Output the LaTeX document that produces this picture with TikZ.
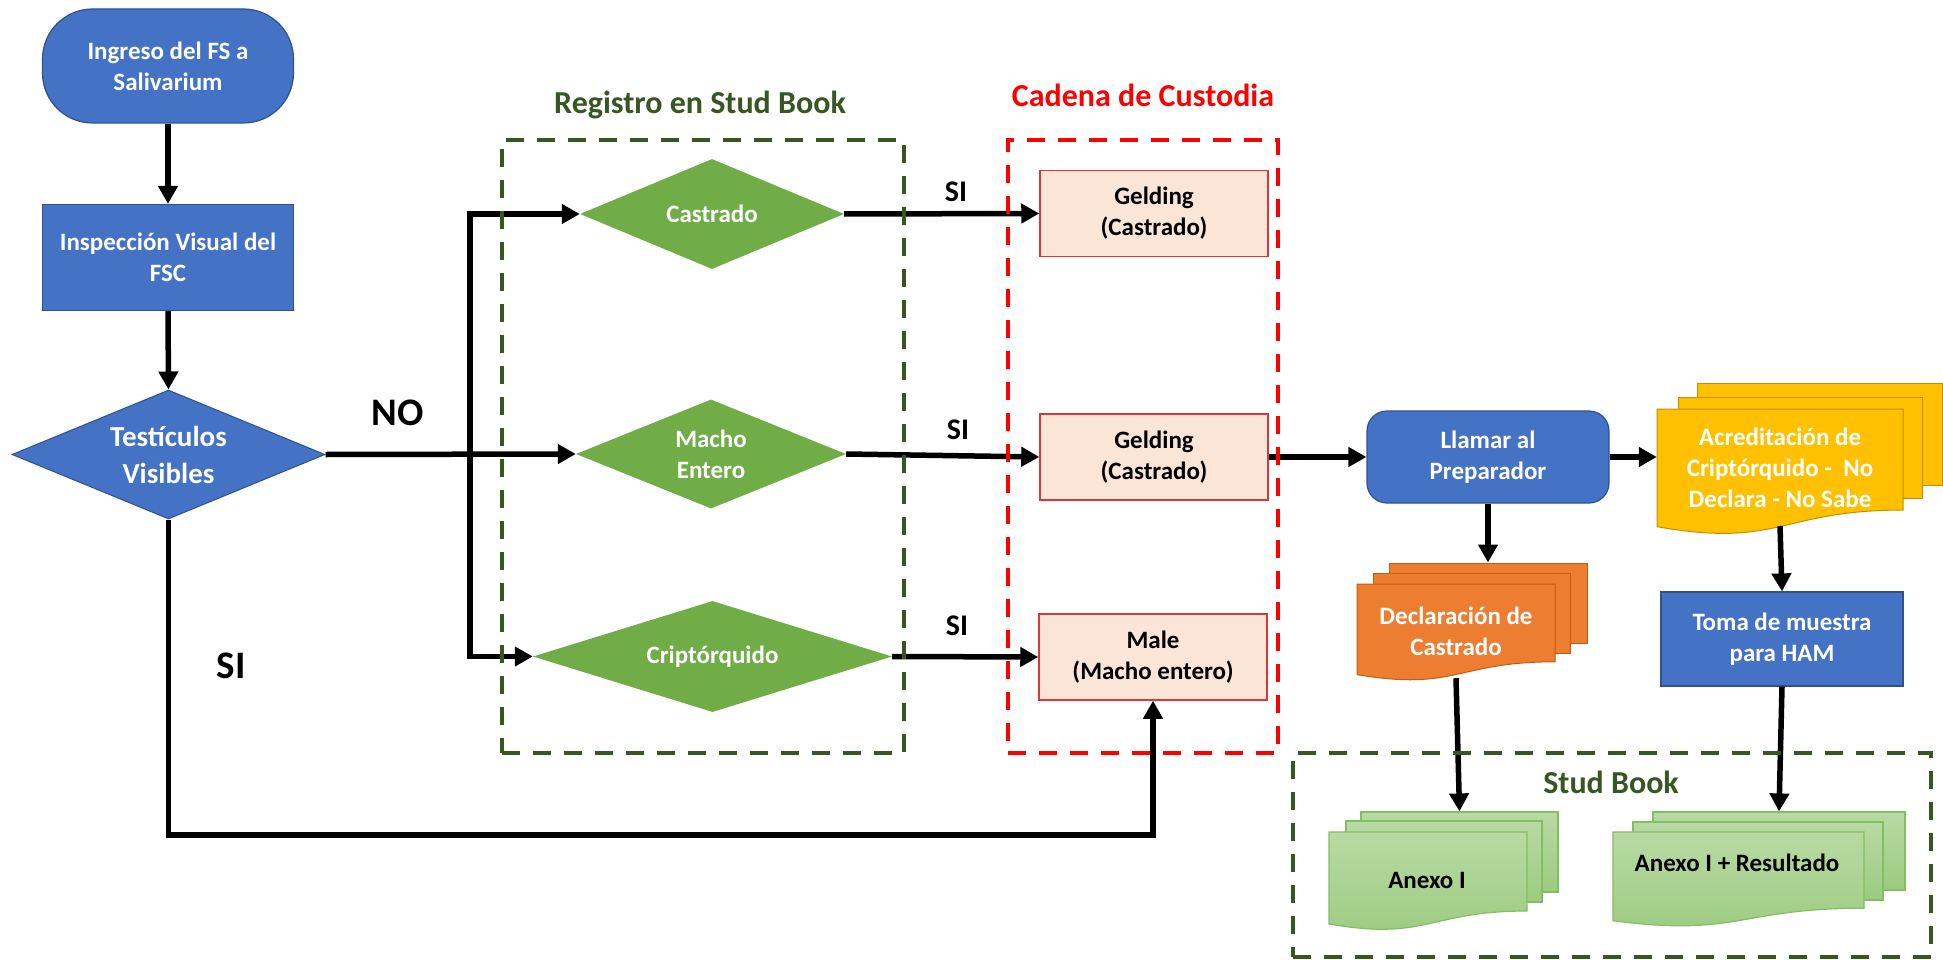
\documentclass[tikz,border=0pt]{standalone}
\usepackage{fontspec}
\setmainfont{Carlito}
\usetikzlibrary{arrows.meta,shapes.geometric}
\definecolor{blueA}{HTML}{4472C4}
\definecolor{blueB}{HTML}{2F528F}
\definecolor{greenA}{HTML}{70AD47}
\definecolor{darkgreen}{HTML}{375623}
\definecolor{peach}{HTML}{FBE5D6}
\definecolor{redB}{HTML}{D9383A}
\definecolor{redD}{HTML}{FF0000}
\definecolor{orangeA}{HTML}{ED7D31}
\definecolor{orangeB}{HTML}{C55A11}
\definecolor{yellowA}{HTML}{FFC000}
\definecolor{yellowB}{HTML}{BF9000}
\definecolor{lgT}{HTML}{B8DAA3}
\definecolor{lgB}{HTML}{9CCB80}
\definecolor{lgD}{HTML}{84BE64}
\newcommand{\frontdoc}[5]{\path[#1] (#2,#3) -- (#4,#3) -- (#4,{#3+0.802*#5}) .. controls ({(#2+#4)/2},{#3+0.802*#5}) and ({(#2+#4)/2},{#3+1.107*#5}) .. (#2,{#3+0.934*#5}) -- cycle;}
\tikzset{
  txt/.style={font=\bfseries\fontsize{25}{31}\selectfont, align=center, inner sep=0pt},
  bluebox/.style={txt, text=white, fill=blueA, draw=blueB, line width=1.2pt, rectangle},
  bluediamond/.style={font=\bfseries\fontsize{29}{37}\selectfont, align=center, inner sep=0pt, text=white, fill=blueA, draw=blueB, line width=1pt, diamond},
  gdiamond/.style={txt, text=white, fill=greenA, diamond},
  pbox/.style={txt, text=black, fill=peach, draw=redB, line width=1.5pt, rectangle, minimum width=228pt, minimum height=86pt},
  osheet/.style={fill=orangeA, draw=orangeB, line width=1pt},
  ysheet/.style={fill=yellowA, draw=yellowB, line width=1pt},
  gsheet/.style={top color=lgT, bottom color=lgB, draw=lgD, line width=1.2pt},
  sheetnode/.style={rectangle, inner sep=0pt},
  doctext/.style={txt, rectangle},
  arr/.style={line width=5.5pt, -{Triangle[length=18pt,width=19pt]}},
  gbox/.style={rectangle, draw=darkgreen, line width=4.5pt, dash pattern=on 18pt off 13pt, inner sep=0pt},
  rbox/.style={rectangle, draw=redD, line width=4.5pt, dash pattern=on 18pt off 13pt, inner sep=0pt},
  bigl/.style={font=\bfseries\fontsize{39}{45}\selectfont, inner sep=0pt},
  sil/.style={font=\bfseries\fontsize{30}{36}\selectfont, inner sep=0pt},
  ttl/.style={font=\bfseries\fontsize{32}{38}\selectfont, inner sep=0pt},
}
\begin{document}
\begin{tikzpicture}[x=1pt,y=-1pt]
\useasboundingbox[fill=white] (0,0) rectangle (1943,960);

% left column
\node[bluebox, rounded corners=50pt, minimum width=251pt, minimum height=114pt] (ingreso) at (168,66) {Ingreso del FS a\\Salivarium};
\node[bluebox, minimum width=251pt, minimum height=106pt] (insp) at (168,257.5) {Inspección Visual del\\FSC};
\node[bluediamond, minimum width=313pt, minimum height=129pt, shape aspect=2.43] (test) at (168.5,454.5) {Testículos\\Visibles};

% Registro diamonds
\node[gdiamond, minimum width=264pt, minimum height=110pt, shape aspect=2.4] (cast) at (712,214) {Castrado};
\node[gdiamond, minimum width=270pt, minimum height=109pt, shape aspect=2.48] (macho) at (711,454) {Macho\\Entero};
\node[gdiamond, minimum width=359pt, minimum height=111pt, shape aspect=3.2] (cripto) at (712.5,656.5) {Criptórquido};

% Cadena boxes
\node[pbox] (g1) at (1154,213.5) {Gelding\\(Castrado)};
\node[pbox] (g2) at (1154,457) {Gelding\\(Castrado)};
\node[pbox] (male) at (1153,657) {Male\\(Macho entero)};

% right part
\node[bluebox, rounded corners=20pt, minimum width=242pt, minimum height=92pt] (llamar) at (1488,457) {Llamar al\\Preparador};
\node[bluebox, minimum width=242pt, minimum height=94pt] (toma) at (1782,639) {Toma de muestra\\para HAM};

% orange document
\node[sheetnode, osheet, minimum width=198pt, minimum height=80pt] (declback) at (1488,603) {};
\node[sheetnode, osheet, minimum width=197pt, minimum height=80pt] (declmid) at (1471.5,613) {};
\frontdoc{osheet}{1357}{584}{1555}{97}
\node[doctext, text=white, minimum width=198pt, minimum height=94pt] (decl) at (1456,631) {Declaración de\\Castrado};

% yellow document
\node[sheetnode, ysheet, minimum width=245pt, minimum height=102pt] (acrback) at (1819.5,434) {};
\node[sheetnode, ysheet, minimum width=244pt, minimum height=101pt] (acrmid) at (1800,447.5) {};
\frontdoc{ysheet}{1657}{409}{1903}{126}
\node[doctext, text=white, minimum width=246pt, minimum height=117pt] (acr) at (1780,467.5) {Acreditación de\\Criptórquido - ~No\\Declara - No Sabe};

% green documents
\node[sheetnode, gsheet, minimum width=197pt, minimum height=80pt] (anexoback) at (1459.5,852) {};
\node[sheetnode, gsheet, minimum width=196pt, minimum height=81pt] (anexomid) at (1444,861.5) {};
\frontdoc{gsheet}{1329}{832}{1527}{98.5}
\node[doctext, text=black] (anexo) at (1427,880) {Anexo I};

\node[sheetnode, gsheet, minimum width=252pt, minimum height=78pt] (anexorback) at (1779,851) {};
\node[sheetnode, gsheet, minimum width=250pt, minimum height=78pt] (anexormid) at (1758,861) {};
\frontdoc{gsheet}{1613}{832}{1864}{95}
\node[doctext, text=black] (anexor) at (1737,863) {Anexo I + Resultado};

% connectors
\coordinate (jx) at (470,0);
\coordinate (bot) at (0,835);
\draw[arr] (ingreso.south) -- (insp.north);
\draw[arr] (insp.south) -- (test.north);
\draw[arr] (test.east) -- (macho.west);
\draw[arr] (cripto.west -| jx) |- (cast.west);
\draw[arr] (cast.west -| jx) |- (cripto.west);
\draw[arr] (cast.east) -- (g1.west);
\draw[arr] (macho.east) -- (g2.west);
\draw[arr] (cripto.east) -- (male.west);
\draw[arr] (test.south) -- (test.south |- bot) -| (male.south);
\draw[arr] (g2.east) -- (llamar.west);
\draw[arr] (llamar.east) -- (llamar.east -| acr.west);
\draw[arr] (llamar.south) -- (declback.north);
\draw[arr] (acr.south) -- (toma.north);
\draw[arr] (decl.south) -- (anexoback.north);
\draw[arr] (toma.south) -- (anexorback.north);

% labels
\node[bigl] (nolab) at (398,413) {NO};
\node[bigl] (silab) at (231,666) {SI};
\node[sil] (si1) at (956,192) {SI};
\node[sil] (si2) at (958,430) {SI};
\node[sil] (si3) at (957,626) {SI};

% dashed group boxes and titles
\node[gbox, minimum width=402pt, minimum height=613pt] (regbox) at (703,446.5) {};
\node[rbox, minimum width=270pt, minimum height=613pt] (cadbox) at (1143,446.5) {};
\node[gbox, minimum width=638pt, minimum height=204pt] (studbox) at (1612,855) {};
\node[ttl, text=darkgreen] (regtitle) at (700,105) {Registro en Stud Book};
\node[ttl, text=redD] (cadtitle) at (1143,95) {Cadena de Custodia};
\node[ttl, text=darkgreen] (studtitle) at (1611,782) {Stud Book};
\end{tikzpicture}
\end{document}
